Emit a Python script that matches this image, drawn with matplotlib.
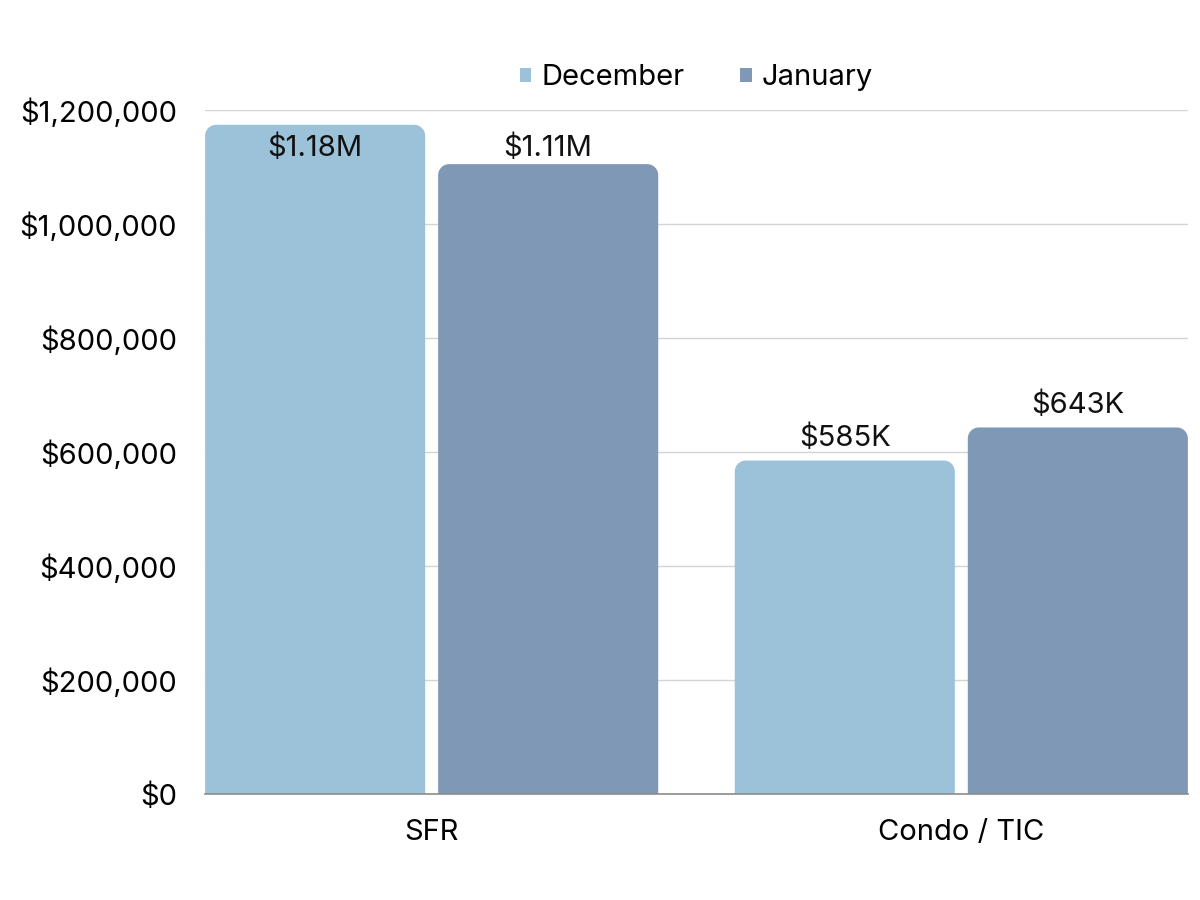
import numpy as np
import matplotlib
matplotlib.use("Agg")
import matplotlib.pyplot as plt
import matplotlib.ticker as ticker
from matplotlib.patches import PathPatch, Patch
from matplotlib.path import Path

plt.rcParams['font.family'] = ['Inter', 'DejaVu Sans']

categories = ['SFR', 'Condo / TIC']
series_names = ['December', 'January']
december = [1174000, 585000]
january = [1105000, 643000]
value_labels = [['$1.18M', '$585K'], ['$1.11M', '$643K']]
colors = ['#9bc2d8', '#7f98b5']

fig = plt.figure(figsize=(12, 9), dpi=100)
ax = fig.add_axes([0.1708, 0.1178, 0.8192, 0.76])

ymax = 1200000
xlim = (-0.428, 1.428)
ax.set_xlim(*xlim)
ax.set_ylim(0, ymax)

width = 0.4155
offsets = [-0.22, 0.22]
x = np.arange(len(categories))

# data units per pixel, used to keep corners round
ax_w_px = 0.8192 * 1200
ax_h_px = 0.76 * 900
xpp = (xlim[1] - xlim[0]) / ax_w_px
ypp = ymax / ax_h_px
r_px = 11


def top_rounded_bar(left, w, h):
    rx, ry = r_px * xpp, r_px * ypp
    t = np.linspace(0, np.pi / 2, 12)
    pts = [(left, 0)] + [(left + rx - rx * np.cos(a), h - ry + ry * np.sin(a)) for a in t]
    pts += [(left + w - rx + rx * np.cos(a), h - ry + ry * np.sin(a)) for a in t[::-1]]
    pts += [(left + w, 0), (left, 0)]
    codes = [Path.MOVETO] + [Path.LINETO] * (len(pts) - 2) + [Path.CLOSEPOLY]
    return Path(pts, codes)


label_cap = 1133000
for s, vals in enumerate([december, january]):
    for i, v in enumerate(vals):
        left = x[i] + offsets[s] - width / 2
        ax.add_patch(PathPatch(top_rounded_bar(left, width, v), fc=colors[s], ec='none', zorder=3))
        ly = min(v + 22 * ypp, label_cap)
        ax.text(x[i] + offsets[s], ly, value_labels[s][i], ha='center', va='center',
                fontsize=21, color='#111111', zorder=4)

ax.set_xticks(x)
ax.set_xticklabels(categories, fontsize=21)
ax.yaxis.set_major_locator(ticker.MultipleLocator(200000))
ax.yaxis.set_major_formatter(ticker.FuncFormatter(lambda v, p: '${:,.0f}'.format(v)))
ax.tick_params(axis='y', length=0, pad=20, labelsize=21)
ax.tick_params(axis='x', length=0, pad=18)
ax.grid(axis='y', color='#d4d4d4', linewidth=1, zorder=0)
ax.set_axisbelow(True)
for side in ['top', 'right', 'left']:
    ax.spines[side].set_visible(False)
ax.spines['bottom'].set_color('#8c8c8c')
ax.spines['bottom'].set_linewidth(1.2)
ax.spines['bottom'].set_zorder(5)

handles = [Patch(fc=c, ec='none') for c in colors]
ax.legend(handles, series_names, loc='center', bbox_to_anchor=(0.5, 1.047),
          ncol=2, frameon=False, fontsize=21, handlelength=0.4, handleheight=0.4,
          handletextpad=0.35, columnspacing=1.9)

fig.savefig('out.png', dpi=100)
